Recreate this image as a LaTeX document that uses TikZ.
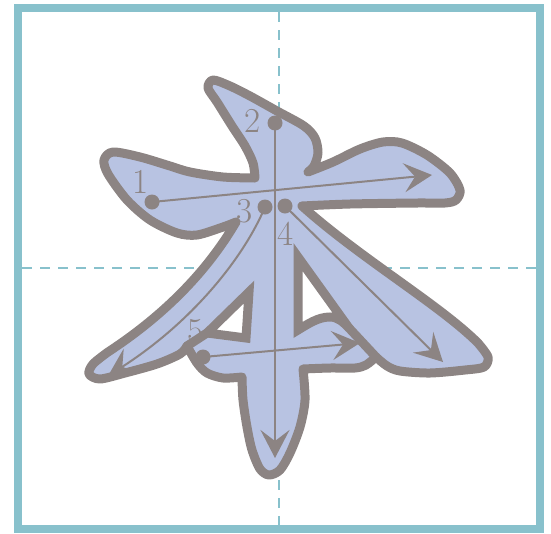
\documentclass[tikz,border=0pt]{standalone}
\usepackage{tikz}
\usetikzlibrary{arrows.meta}
\definecolor{framecol}{HTML}{88C1CC}
\definecolor{inkgrey}{HTML}{8C8483}
\definecolor{glyphfill}{HTML}{B8C3E2}
\tikzset{
  frameline/.style={draw=framecol, line width=8pt},
  guideline/.style={draw=framecol, line width=2.5pt, dash pattern=on 10pt off 8pt},
  glyphline/.style={draw=inkgrey, fill=glyphfill, line width=9pt, line join=round},
  holeline/.style={draw=inkgrey, fill=white, line width=9pt, line join=miter},
  seamline/.style={draw=inkgrey, line width=9pt, line cap=round},
  strokearrow/.style={draw=inkgrey, line width=2pt, -{Stealth[length=28pt, width=29pt, inset=11pt]}},
  startdot/.style={circle, fill=inkgrey, inner sep=0pt, minimum size=15pt},
  numlabel/.style={text=inkgrey, font=\fontsize{35}{35}\selectfont, inner sep=0pt}
}
\begin{document}
\begin{tikzpicture}[x=1pt, y=-1pt]
  \useasboundingbox (0,0) rectangle (551,533);
  % grid
  \draw[frameline] (18,8) rectangle (540,529);
  \draw[guideline] (279,12) -- (279,525);
  \draw[guideline] (22,268) -- (536,268);

  % character outline
  \draw[glyphline]
    plot[smooth] coordinates {(255,178) (253,163) (245,146) (232,126) (217,102) (208,88) (213,80) (230,86) (250,96) (277,111) (304,126) (315,138) (318,153) (314,166) (308,172)}
    -- plot[smooth] coordinates {(308,172) (333,162) (360,149) (383,142) (402,143) (427,155) (450,173) (460,190) (456,200) (445,203) (417,203) (350,204) (302,206)}
    .. controls (360,258) and (440,305) .. (478,343)
    -- plot[smooth] coordinates {(478,343) (488,357) (484,367) (465,370) (430,373) (400,371) (387,366) (376,357)}
    -- plot[smooth] coordinates {(376,357) (366,365) (355,368) (330,368) (303,369)}
    -- plot[smooth] coordinates {(303,369) (305,400) (300,427) (290,453) (280,470) (269,475) (260,469) (252,450) (247,427) (243,400) (242,377)}
    -- plot[smooth] coordinates {(242,377) (223,378) (207,373) (197,363) (187,346)}
    -- plot[smooth] coordinates {(187,346) (180,354) (157,364) (125,373) (100,379) (89,374) (93,364) (108,352)}
    .. controls (160,318) and (205,275) .. (236,222)
    -- plot[smooth] coordinates {(236,222) (223,227) (197,235) (177,233) (150,220) (127,200) (108,174) (104,160) (113,152) (140,157) (170,166) (190,172) (223,177) (255,178)}
    -- cycle;
  \draw[holeline] (249,292) -- (246,338) -- (207,333) -- cycle;
  \draw[holeline] (298,257) -- (298,330) .. controls (308,324) and (318,317) .. (330,317)
    .. controls (338,317) and (343,322) .. (349,328) -- cycle;
  \draw[seamline] (207,333) -- (187,346);
  \draw[seamline] (349,328) -- (376,357);

  % stroke order
  \node[startdot] (s1) at (152,202) {};
  \node[startdot] (s2) at (275,123) {};
  \node[startdot] (s3) at (265,207) {};
  \node[startdot] (s4) at (285,206) {};
  \node[startdot] (s5) at (203,357) {};
  \coordinate (e1) at (432,175);
  \coordinate (e2) at (275,458);
  \coordinate (e3) at (108,376);
  \coordinate (e4) at (443,362);
  \coordinate (e5) at (360,343);
  \draw[strokearrow] (s1.center) -- (e1);
  \draw[strokearrow] (s2.center) -- (e2);
  \draw[strokearrow] (s3.center) .. controls (245,255) and (195,320) .. (e3);
  \draw[strokearrow] (s4.center) -- (e4);
  \draw[strokearrow] (s5.center) -- (e5);
  \node[numlabel] (n1) at (141,182) {1};
  \node[numlabel] (n2) at (253,121) {2};
  \node[numlabel] (n3) at (245,211) {3};
  \node[numlabel] (n4) at (286,234) {4};
  \node[numlabel] (n5) at (196,331) {5};
\end{tikzpicture}
\end{document}
